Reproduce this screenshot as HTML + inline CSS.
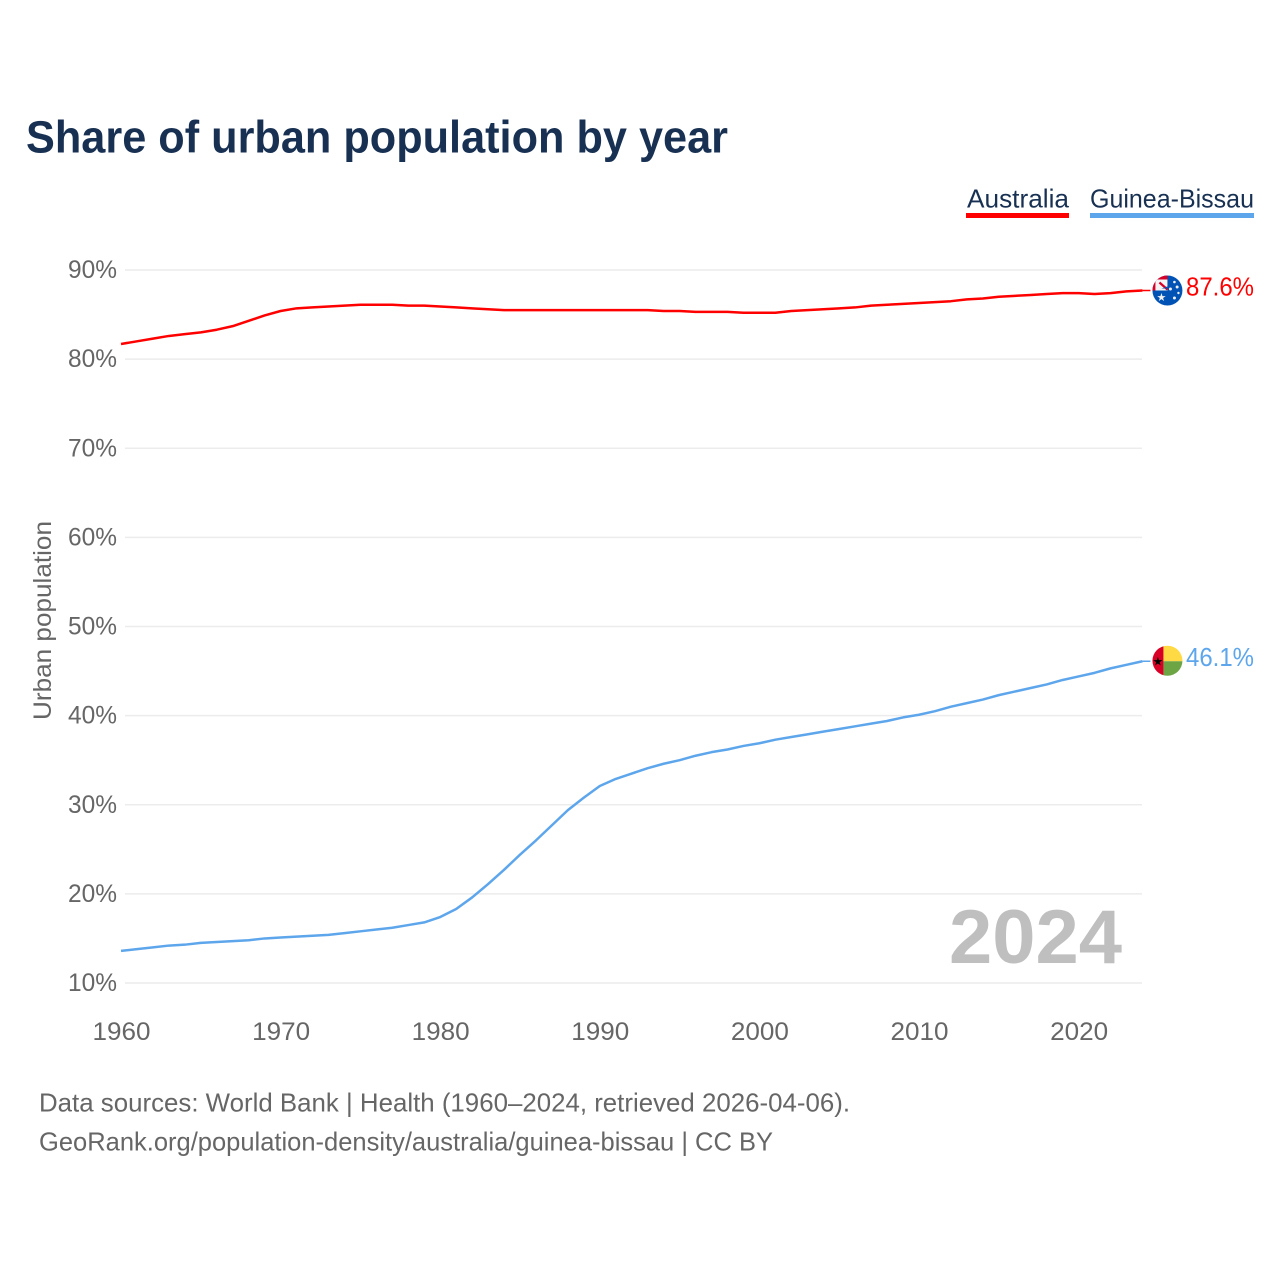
<!DOCTYPE html>
<html lang="en">
<head>
<meta charset="utf-8">
<title>Share of urban population by year</title>
<style>
html,body{margin:0;padding:0;background:#fff;width:1280px;height:1280px;overflow:hidden}
svg{display:block;font-family:"Liberation Sans",sans-serif}
</style>
</head>
<body>
<svg id="chart" xmlns="http://www.w3.org/2000/svg" width="1280" height="1280" viewBox="0 0 1280 1280">
  <defs>
    <clipPath id="au-clip"><circle id="au-clip-circle" r="15"/></clipPath>
    <clipPath id="gw-clip"><circle id="gw-clip-circle" r="15"/></clipPath>
  </defs>
  <text x="26" y="152.5" font-size="45" font-weight="700" fill="#183153" textLength="702" lengthAdjust="spacingAndGlyphs">Share of urban population by year</text>

  <g>
    <g>
      <text x="967" y="207.5" font-size="26" fill="#183153" textLength="102" lengthAdjust="spacingAndGlyphs">Australia</text>
      <rect x="966" y="213" width="103" height="5" fill="#ff0000"/>
    </g>
    <g>
      <text x="1090" y="207.5" font-size="26" fill="#183153" textLength="164" lengthAdjust="spacingAndGlyphs">Guinea-Bissau</text>
      <rect x="1090" y="213" width="164" height="5" fill="#5ea6ec"/>
    </g>
  </g>

  <g id="grid"></g>
  <g id="y-ticks"></g>
  <g id="x-ticks"></g>

  <text transform="translate(51,720) rotate(-90)" font-size="25" fill="#666666" textLength="199" lengthAdjust="spacingAndGlyphs">Urban population</text>

  <text x="1122" y="963" text-anchor="end" font-size="76" font-weight="700" fill="#bfbfbf" textLength="173" lengthAdjust="spacingAndGlyphs">2024</text>

  <g id="series"></g>
  <g id="ends"></g>

  <text x="39" y="1111.5" font-size="26" fill="#666666" textLength="811" lengthAdjust="spacingAndGlyphs">Data sources: World Bank | Health (1960–2024, retrieved 2026-04-06).</text>
  <text x="39" y="1150.5" font-size="26" fill="#666666" textLength="734" lengthAdjust="spacingAndGlyphs">GeoRank.org/population-density/australia/guinea-bissau | CC BY</text>
</svg>
<script>
const years = [1960,1961,1962,1963,1964,1965,1966,1967,1968,1969,1970,1971,1972,1973,1974,1975,1976,1977,1978,1979,1980,1981,1982,1983,1984,1985,1986,1987,1988,1989,1990,1991,1992,1993,1994,1995,1996,1997,1998,1999,2000,2001,2002,2003,2004,2005,2006,2007,2008,2009,2010,2011,2012,2013,2014,2015,2016,2017,2018,2019,2020,2021,2022,2023,2024];
const australiaValues = [81.7,82.0,82.3,82.6,82.8,83.0,83.3,83.7,84.3,84.9,85.4,85.7,85.8,85.9,86.0,86.1,86.1,86.1,86.0,86.0,85.9,85.8,85.7,85.6,85.5,85.5,85.5,85.5,85.5,85.5,85.5,85.5,85.5,85.5,85.4,85.4,85.3,85.3,85.3,85.2,85.2,85.2,85.4,85.5,85.6,85.7,85.8,86.0,86.1,86.2,86.3,86.4,86.5,86.7,86.8,87.0,87.1,87.2,87.3,87.4,87.4,87.3,87.4,87.6,87.7];
const guineaBissauValues = [13.6,13.8,14.0,14.2,14.3,14.5,14.6,14.7,14.8,15.0,15.1,15.2,15.3,15.4,15.6,15.8,16.0,16.2,16.5,16.8,17.4,18.3,19.6,21.1,22.7,24.4,26.0,27.7,29.4,30.8,32.1,32.9,33.5,34.1,34.6,35.0,35.5,35.9,36.2,36.6,36.9,37.3,37.6,37.9,38.2,38.5,38.8,39.1,39.4,39.8,40.1,40.5,41.0,41.4,41.8,42.3,42.7,43.1,43.5,44.0,44.4,44.8,45.3,45.7,46.1];
const yTickValues = [10,20,30,40,50,60,70,80,90];
const xTickValues = [1960,1970,1980,1990,2000,2010,2020];
const australiaLabel = "87.6%";
const guineaBissauLabel = "46.1%";

const NS = "http://www.w3.org/2000/svg";
function xScale(year){ return 121 + (year - 1960) * 15.96; }
function yScale(value){ return 983 - (value - 10) * 8.9125; }
function make(tag, attrs, parent){
  const el = document.createElementNS(NS, tag);
  for (const k in attrs) el.setAttribute(k, attrs[k]);
  parent.appendChild(el);
  return el;
}

const grid = document.getElementById("grid");
const yTicks = document.getElementById("y-ticks");
yTickValues.forEach(function(v){
  const line = make("line", {x1:125, x2:1142, y1:yScale(v), y2:yScale(v), stroke:"#ececec", "stroke-width":1.6}, grid);
  
  
  const label = make("text", {x:117, y:yScale(v)+8, "text-anchor":"end", "font-size":25, fill:"#666666", textLength:49, lengthAdjust:"spacingAndGlyphs"}, yTicks);
  
  
  label.textContent = v + "%";
});

const xTicks = document.getElementById("x-ticks");
xTickValues.forEach(function(v){
  const label = make("text", {x:xScale(v)+0.5, y:1040, "text-anchor":"middle", "font-size":25, fill:"#666666", textLength:58, lengthAdjust:"spacingAndGlyphs"}, xTicks);
  
  
  label.textContent = v;
});

const seriesGroup = document.getElementById("series");
function drawLine(values, color, name){
  const d = values.map(function(v, i){
    return (i ? "L" : "M") + xScale(years[i]).toFixed(2) + " " + yScale(v).toFixed(2);
  }).join(" ");
  const path = make("path", {d:d, fill:"none", stroke:color, "stroke-width":2.5, "stroke-linejoin":"round"}, seriesGroup);
  
  
}
drawLine(australiaValues, "#ff0000", "line-australia");
drawLine(guineaBissauValues, "#5ea6ec", "line-guinea-bissau");

const ends = document.getElementById("ends");
const lastYear = years[years.length - 1];
const flagX = xScale(lastYear) + 25;

/* Australia end marker */
const auValue = australiaValues[australiaValues.length - 1];
const auY = yScale(auValue);
document.getElementById("au-clip-circle").setAttribute("cx", flagX);
document.getElementById("au-clip-circle").setAttribute("cy", auY);
const auLead = make("line", {x1:xScale(lastYear), x2:flagX-17, y1:yScale(auValue), y2:yScale(auValue), stroke:"#ff0000", "stroke-width":1.5}, ends);


const auFlag = make("g", {"clip-path":"url(#au-clip)"}, ends);


make("rect", {x:flagX-16, y:auY-16, width:32, height:32, fill:"#0052b4"}, auFlag);
make("rect", {x:flagX-16, y:auY-16, width:16, height:16, fill:"#d80027"}, auFlag);
make("rect", {x:flagX-12, y:auY-11, width:12, height:11, fill:"#f4f4f4"}, auFlag);
make("path", {d:"M"+(flagX-8)+" "+(auY-8)+"L"+(flagX)+" "+(auY-1), stroke:"#d80027", "stroke-width":2.2, fill:"none"}, auFlag);
make("path", {d:"M"+(flagX-6)+" "+(auY-2)+"h6v-2z", fill:"#0052b4"}, auFlag);
const auStar = make("text", {x:flagX-6, y:auY+10.5, "text-anchor":"middle", "font-size":11, fill:"#f0f0f0"}, auFlag);
auStar.textContent = "★";
make("circle", {cx:flagX+3, cy:auY-1.5, r:1.5, fill:"#f0f0f0"}, auFlag);
make("circle", {cx:flagX+9.7, cy:auY-3.5, r:1.5, fill:"#f0f0f0"}, auFlag);
make("circle", {cx:flagX+7, cy:auY-8.5, r:1.3, fill:"#f0f0f0"}, auFlag);
make("circle", {cx:flagX+11, cy:auY+2.5, r:1.2, fill:"#f0f0f0"}, auFlag);
make("circle", {cx:flagX+7, cy:auY+7.5, r:1.5, fill:"#f0f0f0"}, auFlag);
const auLabel = make("text", {x:1254, y:yScale(auValue)+5, "text-anchor":"end", "font-size":26, fill:"#ff0000", textLength:68, lengthAdjust:"spacingAndGlyphs"}, ends);


auLabel.textContent = australiaLabel;

/* Guinea-Bissau end marker */
const gwValue = guineaBissauValues[guineaBissauValues.length - 1];
const gwY = yScale(gwValue) - 0.5;
document.getElementById("gw-clip-circle").setAttribute("cx", flagX);
document.getElementById("gw-clip-circle").setAttribute("cy", gwY);
const gwLead = make("line", {x1:xScale(lastYear), x2:flagX-17, y1:yScale(gwValue), y2:yScale(gwValue), stroke:"#5ea6ec", "stroke-width":1.5}, ends);


const gwFlag = make("g", {"clip-path":"url(#gw-clip)"}, ends);


make("rect", {x:flagX-4, y:gwY-16, width:20, height:16.5, fill:"#ffda44"}, gwFlag);
make("rect", {x:flagX-4, y:gwY+0.5, width:20, height:16, fill:"#6da544"}, gwFlag);
make("rect", {x:flagX-16, y:gwY-16, width:12, height:32, fill:"#d80027"}, gwFlag);
const gwStar = make("text", {x:flagX-9.5, y:gwY+4.5, "text-anchor":"middle", "font-size":12, fill:"#000000"}, gwFlag);
gwStar.textContent = "★";
const gwLabel = make("text", {x:1254, y:yScale(gwValue)+4.5, "text-anchor":"end", "font-size":26, fill:"#5ea6ec", textLength:68, lengthAdjust:"spacingAndGlyphs"}, ends);


gwLabel.textContent = guineaBissauLabel;
</script>
</body>
</html>
